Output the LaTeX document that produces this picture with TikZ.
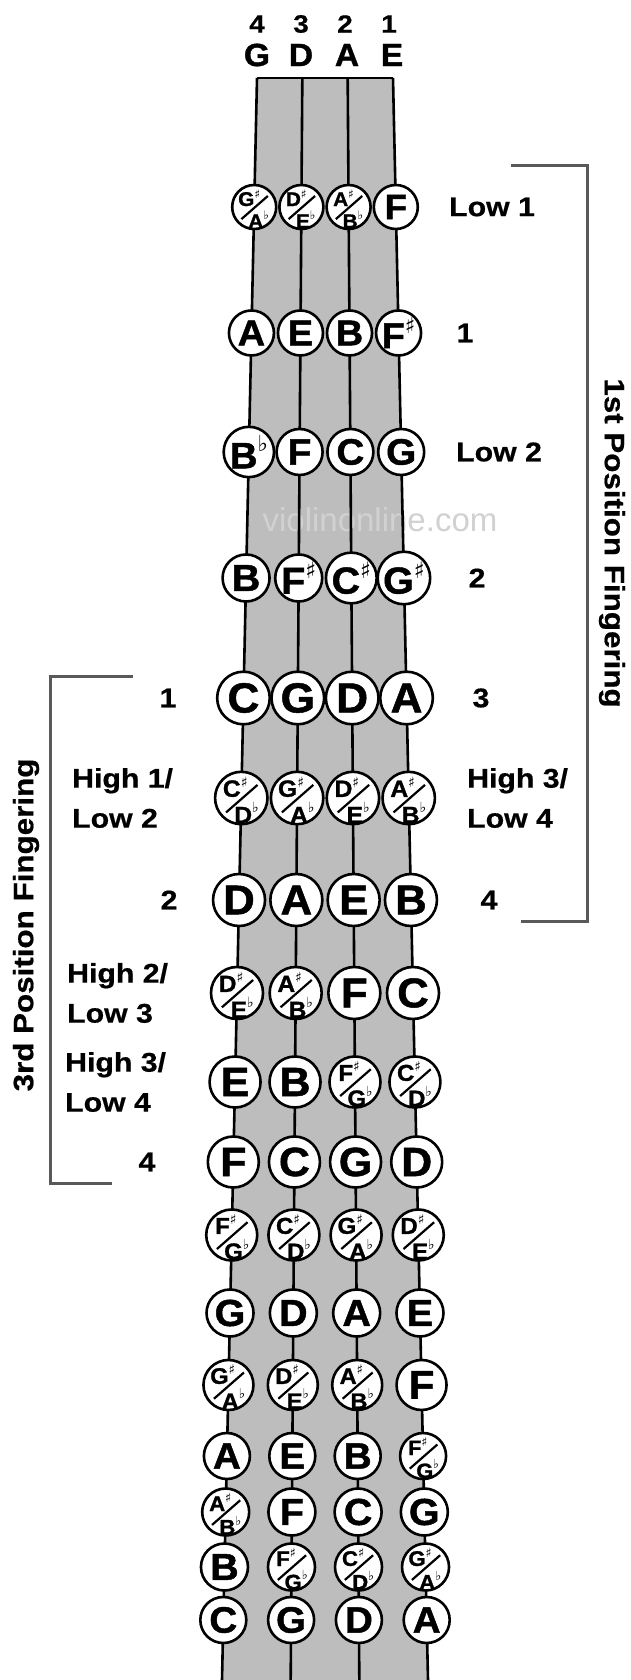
\documentclass[tikz,border=0pt]{standalone}
\usepackage{fontspec}
\setmainfont{Liberation Sans}
\newfontfamily\symfont{DejaVu Sans}
\newfontfamily\lblfont{Liberation Sans}[FakeStretch=1.12, FakeBold=0.6]
\newfontfamily\heavyfont{Liberation Sans}[FakeStretch=1.05, FakeBold=1.2]
\usetikzlibrary{calc}
\newcommand\shp{\raisebox{.4em}{\scalebox{.6}{\symfont ♯}}}
\newcommand\flt{\raisebox{.45em}{\scalebox{.6}{\symfont ♭}}}
\tikzset{
  board/.style={fill=black!26},
  string/.style={draw=black, line width=2.6pt},
  note/.style={circle, draw=black, line width=2.6pt, fill=white, inner sep=0pt},
  slash/.style={draw=black, line width=2.2pt},
  lbl/.style={font=\lblfont\bfseries\fontsize{27}{40}\selectfont, inner sep=0pt},
  lbl2/.style={lbl, align=left, anchor=west},
  brk/.style={draw=black!65, line width=3pt},
  rot/.style={font=\lblfont\bfseries\fontsize{28}{30}\selectfont, inner sep=0pt},
  topnum/.style={font=\lblfont\bfseries\fontsize{25}{25}\selectfont, inner sep=0pt},
  topstr/.style={font=\heavyfont\bfseries\fontsize{32}{32}\selectfont, inner sep=0pt},
  wm/.style={font=\fontsize{33}{33}\selectfont, text=black!18, inner sep=0pt}
}
% single note: name, string, y, radius, text
\newcommand\nt[5]{%
  \pgfmathsetmacro\rt{(#3-78)/1602}%
  \pgfmathsetmacro\fs{1.6*#4}%
  \node[note, minimum size=#4*2pt, font=\heavyfont\bfseries\fontsize{\fs}{\fs}\selectfont] (#1) at ($(#2t)!\rt!(#2b)$) {#5};%
}
% double note: name, string, y, radius, upper, lower
\newcommand\dn[6]{%
  \nt{#1}{#2}{#3}{#4}{}%
  \pgfmathsetmacro\dfs{0.9*#4}%
  \pgfmathsetmacro\ux{-0.23*#4}\pgfmathsetmacro\uy{-0.42*#4}%
  \pgfmathsetmacro\lx{0.2*#4}\pgfmathsetmacro\ly{0.56*#4}%
  \pgfmathsetmacro\sax{-0.58*#4}\pgfmathsetmacro\say{0.55*#4}%
  \pgfmathsetmacro\sbx{0.62*#4}\pgfmathsetmacro\sby{-0.5*#4}%
  \node[inner sep=0pt, font=\heavyfont\bfseries\fontsize{\dfs}{\dfs}\selectfont] (#1u) at ($(#1)+(\ux,\uy)$) {#5};%
  \node[inner sep=0pt, font=\heavyfont\bfseries\fontsize{\dfs}{\dfs}\selectfont] (#1l) at ($(#1)+(\lx,\ly)$) {#6};%
  \draw[slash] ($(#1)+(\sax,\say)$) -- ($(#1)+(\sbx,\sby)$);%
}
\begin{document}
\begin{tikzpicture}[x=1pt, y=-1pt]
\useasboundingbox (0,0) rectangle (631,1680);
\fill[white] (0,0) rectangle (631,1680);
% strings
\coordinate (Gt) at (257,78);     \coordinate (Gb) at (222,1680);
\coordinate (Dt) at (302.33,78);  \coordinate (Db) at (290.67,1680);
\coordinate (At) at (347.67,78);  \coordinate (Ab) at (359.33,1680);
\coordinate (Et) at (393,78);     \coordinate (Eb) at (428,1680);
\fill[board] (Gt) -- (Et) -- (Eb) -- (Gb) -- cycle;
\node[wm] (wm) at (380,520) {violinonline.com};
\draw[string] (Gt) -- (Gb);
\draw[string] (Dt) -- (Db);
\draw[string] (At) -- (Ab);
\draw[string] (Et) -- (Eb);
\draw[string] (Gt) -- (Et);
% top labels
\node[topnum] (n4) at (257,24) {4};
\node[topnum] (n3) at (301,24) {3};
\node[topnum] (n2) at (345,24) {2};
\node[topnum] (n1) at (389,24) {1};
\node[topstr] (sG) at (257,55) {G};
\node[topstr] (sD) at (301,55) {D};
\node[topstr] (sA) at (347,55) {A};
\node[topstr] (sE) at (392,55) {E};
% rows
\dn{r01G}{G}{207}{22}{G\shp}{A\flt}
\dn{r01D}{D}{207}{22}{D\shp}{E\flt}
\dn{r01A}{A}{207}{22}{A\shp}{B\flt}
\nt{r01E}{E}{207}{22}{F}
\nt{r02G}{G}{333}{22.5}{A}
\nt{r02D}{D}{333}{22.5}{E}
\nt{r02A}{A}{333}{22.5}{B}
\nt{r02E}{E}{333}{22.5}{F\shp}
\nt{r03G}{G}{452}{23}{B\flt}
\nt{r03D}{D}{452}{23}{F}
\nt{r03A}{A}{452}{23}{C}
\nt{r03E}{E}{452}{23}{G}
\nt{r04G}{G}{578}{23.5}{B}
\nt{r04D}{D}{578}{23.5}{F\shp}
\nt{r04A}{A}{578}{23.5}{C\shp}
\nt{r04E}{E}{578}{23.5}{G\shp}
\nt{r05G}{G}{698}{26.3}{C}
\nt{r05D}{D}{698}{26.3}{G}
\nt{r05A}{A}{698}{26.3}{D}
\nt{r05E}{E}{698}{26.3}{A}
\dn{r06G}{G}{798}{26.2}{C\shp}{D\flt}
\dn{r06D}{D}{798}{26.2}{G\shp}{A\flt}
\dn{r06A}{A}{798}{26.2}{D\shp}{E\flt}
\dn{r06E}{E}{798}{26.2}{A\shp}{B\flt}
\nt{r07G}{G}{900}{26}{D}
\nt{r07D}{D}{900}{26}{A}
\nt{r07A}{A}{900}{26}{E}
\nt{r07E}{E}{900}{26}{B}
\dn{r08G}{G}{993}{26}{D\shp}{E\flt}
\dn{r08D}{D}{993}{26}{A\shp}{B\flt}
\nt{r08A}{A}{993}{26}{F}
\nt{r08E}{E}{993}{26}{C}
\nt{r09G}{G}{1082}{25.5}{E}
\nt{r09D}{D}{1082}{25.5}{B}
\dn{r09A}{A}{1082}{25.5}{F\shp}{G\flt}
\dn{r09E}{E}{1082}{25.5}{C\shp}{D\flt}
\nt{r10G}{G}{1162}{25.5}{F}
\nt{r10D}{D}{1162}{25.5}{C}
\nt{r10A}{A}{1162}{25.5}{G}
\nt{r10E}{E}{1162}{25.5}{D}
\dn{r11G}{G}{1235}{25.5}{F\shp}{G\flt}
\dn{r11D}{D}{1235}{25.5}{C\shp}{D\flt}
\dn{r11A}{A}{1235}{25.5}{G\shp}{A\flt}
\dn{r11E}{E}{1235}{25.5}{D\shp}{E\flt}
\nt{r12G}{G}{1313}{23.5}{G}
\nt{r12D}{D}{1313}{23.5}{D}
\nt{r12A}{A}{1313}{23.5}{A}
\nt{r12E}{E}{1313}{23.5}{E}
\dn{r13G}{G}{1385}{25}{G\shp}{A\flt}
\dn{r13D}{D}{1385}{25}{D\shp}{E\flt}
\dn{r13A}{A}{1385}{25}{A\shp}{B\flt}
\nt{r13E}{E}{1385}{25}{F}
\nt{r14G}{G}{1456}{23}{A}
\nt{r14D}{D}{1456}{23}{E}
\nt{r14A}{A}{1456}{23}{B}
\dn{r14E}{E}{1456}{23}{F\shp}{G\flt}
\dn{r15G}{G}{1512}{23.5}{A\shp}{B\flt}
\nt{r15D}{D}{1512}{23.5}{F}
\nt{r15A}{A}{1512}{23.5}{C}
\nt{r15E}{E}{1512}{23.5}{G}
\nt{r16G}{G}{1567}{23.5}{B}
\dn{r16D}{D}{1567}{23.5}{F\shp}{G\flt}
\dn{r16A}{A}{1567}{23.5}{C\shp}{D\flt}
\dn{r16E}{E}{1567}{23.5}{G\shp}{A\flt}
\nt{r17G}{G}{1620}{23}{C}
\nt{r17D}{D}{1620}{23}{G}
\nt{r17A}{A}{1620}{23}{D}
\nt{r17E}{E}{1620}{23}{A}
% right labels
\node[lbl, anchor=west] (lLow1) at (449,207) {Low 1};
\node[lbl] (l1) at (465,333) {1};
\node[lbl, anchor=west] (lLow2) at (456,452) {Low 2};
\node[lbl] (l2) at (477,578) {2};
\node[lbl] (l3) at (481,698) {3};
\node[lbl2] (lH3) at (467,798) {High 3/\\Low 4};
\node[lbl] (l4) at (489,900) {4};
% left labels
\node[lbl] (m1) at (168,698) {1};
\node[lbl2] (mH1) at (72,798) {High 1/\\Low 2};
\node[lbl] (m2) at (169,900) {2};
\node[lbl2] (mH2) at (67,993) {High 2/\\Low 3};
\node[lbl2] (mH3) at (65,1082) {High 3/\\Low 4};
\node[lbl] (m4) at (147,1162) {4};
% brackets
\coordinate (R1) at (511,166); \coordinate (R2) at (587,166);
\coordinate (R3) at (587,921); \coordinate (R4) at (521,921);
\draw[brk] (R1) -- (R2) -- (R3) -- (R4);
\coordinate (L1) at (133,676); \coordinate (L2) at (50,676);
\coordinate (L3) at (50,1183); \coordinate (L4) at (112,1183);
\draw[brk] (L1) -- (L2) -- (L3) -- (L4);
\node[rot, rotate=-90] (t1) at (612,543) {1st Position Fingering};
\node[rot, rotate=90] (t3) at (26,925) {3rd Position Fingering};
\end{tikzpicture}
\end{document}
